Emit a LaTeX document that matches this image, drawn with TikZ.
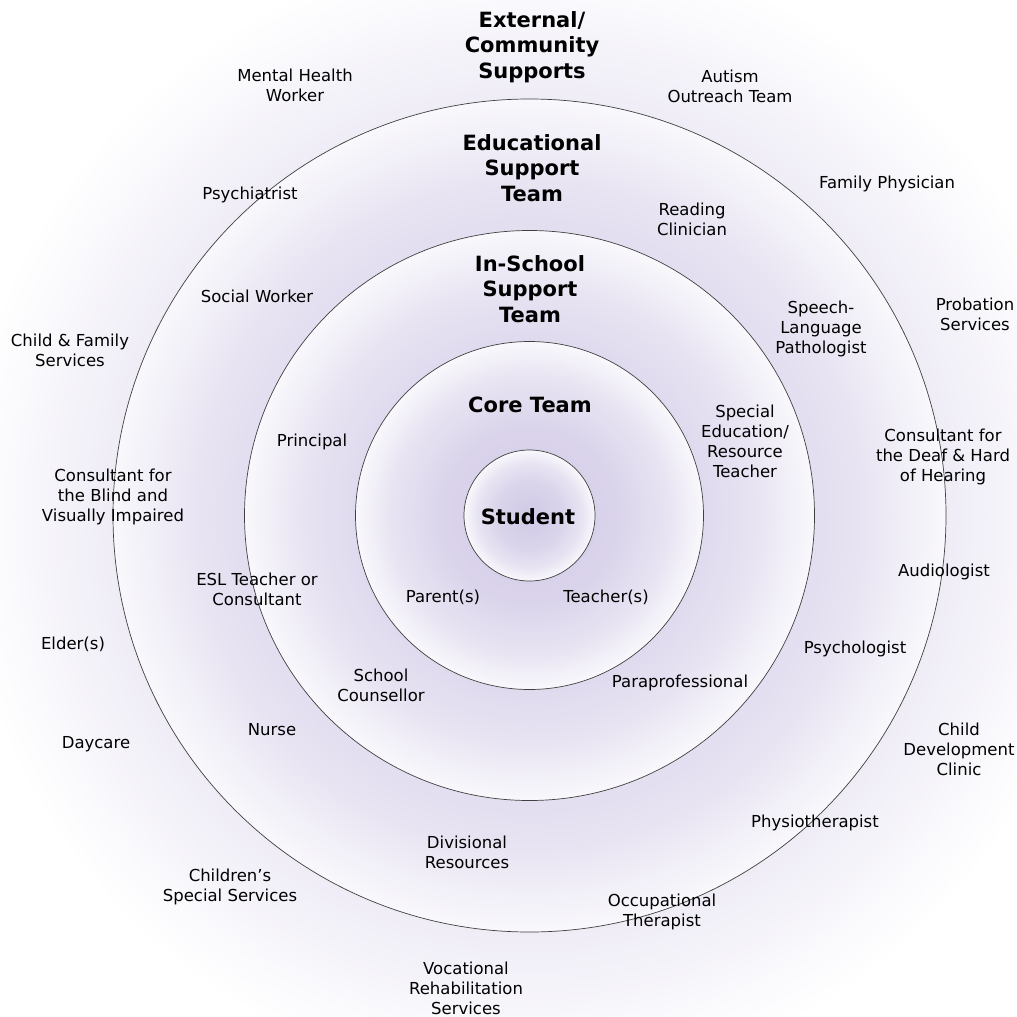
\documentclass[tikz,border=0pt]{standalone}
\usepackage{fontspec}
\setmainfont{DejaVu Sans}
\definecolor{lav}{RGB}{209,201,230}
\pgfdeclareradialshading{discshade}{\pgfpoint{0bp}{0bp}}{%
  color(0bp)=(lav); color(12.5bp)=(lav!80!white); color(20bp)=(lav!50!white);
  color(25bp)=(lav!13!white); color(50bp)=(lav!13!white)}
\pgfdeclareradialshading{outershade}{\pgfpoint{0bp}{0bp}}{%
  color(0bp)=(lav); color(18.5bp)=(lav!34!white); color(22bp)=(lav!15!white);
  color(25bp)=(white); color(50bp)=(white)}
\tikzset{
  lbl/.style={align=center, text=black, font=\fontsize{16.5}{20}\selectfont, inner sep=0pt},
  head/.style={align=center, text=black, font=\fontsize{21}{25.5}\selectfont\bfseries, inner sep=0pt},
  ring/.style={shading=discshade},
  rim/.style={draw=black!75, line width=0.7pt},
}
\begin{document}
\begin{tikzpicture}[x=1pt,y=-1pt]
\clip (0,0) rectangle (1017,1017);
\fill[white] (0,0) rectangle (1017,1017);
\coordinate (c) at (529.5,515.5);
\shade[shading=outershade] (c) circle[radius=570pt];
\shade[ring] (c) circle[radius=416.5pt];
\draw[rim] (c) circle[radius=416.5pt];
\shade[ring] (c) circle[radius=285pt];
\draw[rim] (c) circle[radius=285pt];
\shade[ring] (c) circle[radius=174pt];
\draw[rim] (c) circle[radius=174pt];
\shade[ring] (c) circle[radius=65.5pt];
\draw[rim] (c) circle[radius=65.5pt];

% headings
\node[head] (ext) at (532,47) {External/\\Community\\Supports};
\node[head] (edu) at (532,168) {Educational\\Support\\Team};
\node[head] (isst) at (530,289) {In-School\\Support\\Team};
\node[head] (core) at (530,405) {Core Team};
\node[head] (stud) at (528,517) {Student};

% labels
\node[lbl] (mhw) at (295,85) {Mental Health\\Worker};
\node[lbl] (aot) at (730,86) {Autism\\Outreach Team};
\node[lbl] (psyc) at (250,195) {Psychiatrist};
\node[lbl] (fam) at (887,184) {Family Physician};
\node[lbl] (read) at (692,219) {Reading\\Clinician};
\node[lbl] (soc) at (257,296) {Social Worker};
\node[lbl] (slp) at (821,329) {Speech-\\Language\\Pathologist};
\node[lbl] (prob) at (975,314) {Probation\\Services};
\node[lbl] (cfs) at (70,350) {Child \& Family\\Services};
\node[lbl] (prin) at (312,442) {Principal};
\node[lbl] (sped) at (745,441) {Special\\Education/\\Resource\\Teacher};
\node[lbl] (deaf) at (943,457) {Consultant for\\the Deaf \& Hard\\of Hearing};
\node[lbl] (blind) at (113,497) {Consultant for\\the Blind and\\Visually Impaired};
\node[lbl] (esl) at (257,589) {ESL Teacher or\\Consultant};
\node[lbl] (aud) at (944,572) {Audiologist};
\node[lbl] (par) at (443,597) {Parent(s)};
\node[lbl] (tea) at (606,597) {Teacher(s)};
\node[lbl] (eld) at (73,644) {Elder(s)};
\node[lbl] (psyl) at (855,649) {Psychologist};
\node[lbl] (sc) at (381,685) {School\\Counsellor};
\node[lbl] (para) at (680,683) {Paraprofessional};
\node[lbl] (nur) at (272,730) {Nurse};
\node[lbl] (day) at (96,744) {Daycare};
\node[lbl] (cdc) at (959,749) {Child\\Development\\Clinic};
\node[lbl] (phys) at (815,823) {Physiotherapist};
\node[lbl] (div) at (467,852) {Divisional\\Resources};
\node[lbl] (css) at (230,887) {Children’s\\Special Services};
\node[lbl] (occ) at (662,912) {Occupational\\Therapist};
\node[lbl] (voc) at (466,988) {Vocational\\Rehabilitation\\Services};
\end{tikzpicture}
\end{document}
